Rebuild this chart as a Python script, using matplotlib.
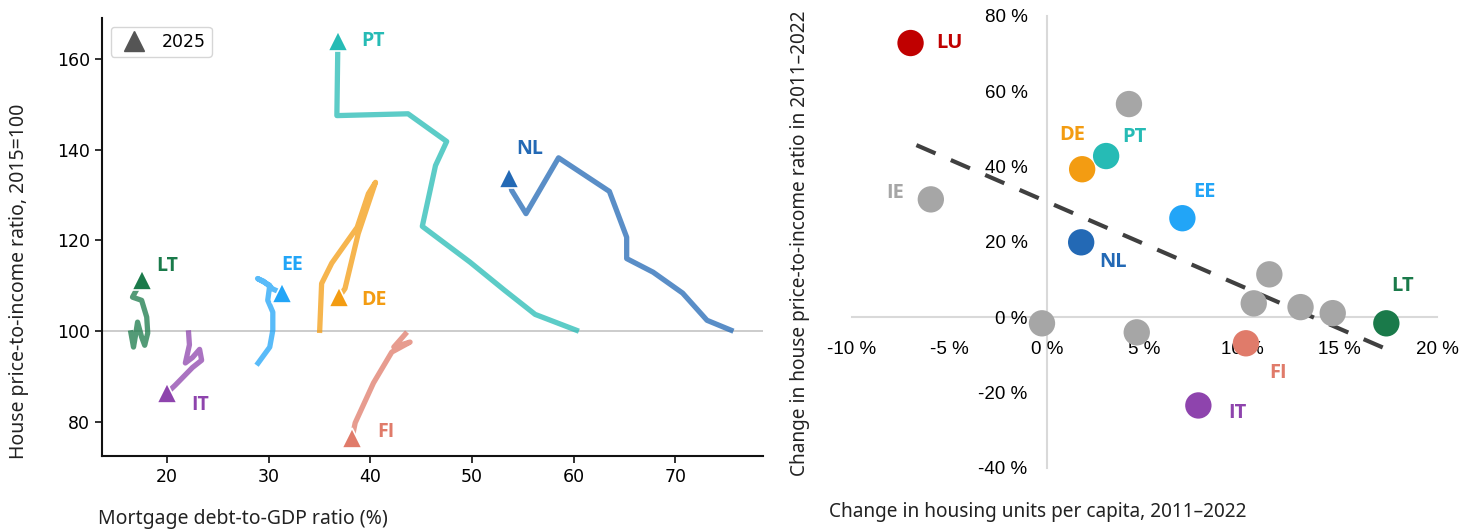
import numpy as np
import matplotlib
matplotlib.use("Agg")
import matplotlib.pyplot as plt
from matplotlib.lines import Line2D

plt.rcParams["font.family"] = ["DejaVu Sans"]

# left panel: paths 2015 -> 2025 (mortgage debt % GDP, price-to-income 2015=100)
countries = ["PT", "NL", "DE", "EE", "LT", "IT", "FI"]
pt_x = [60.5, 56.2, 53.2, 49.8, 45.1, 46.4, 47.5, 43.7, 36.7, 36.8]
pt_y = [100.0, 103.7, 109.0, 115.2, 123.1, 136.5, 141.8, 147.9, 147.5, 164.0]
nl_x = [75.7, 73.1, 70.7, 67.8, 65.2, 65.2, 63.5, 58.5, 55.3, 53.9, 53.6]
nl_y = [100.0, 102.4, 108.4, 113.0, 116.0, 120.7, 130.8, 138.2, 125.9, 131.0, 133.8]
de_x = [35.0, 35.2, 36.2, 38.7, 39.8, 40.5, 38.8, 37.5, 36.9]
de_y = [99.6, 110.5, 115.0, 122.9, 130.3, 132.8, 121.5, 109.4, 107.5]
ee_x = [28.8, 30.1, 30.4, 30.4, 29.9, 30.1, 28.9, 29.5, 30.4, 31.3]
ee_y = [92.5, 96.5, 100.2, 104.2, 106.8, 110.1, 111.6, 111.0, 109.3, 108.4]
lt_x = [16.4, 16.7, 16.9, 17.1, 17.5, 17.8, 18.1, 18.0, 17.5, 16.6, 17.5]
lt_y = [100.2, 96.5, 99.1, 102.0, 98.7, 96.9, 99.6, 103.1, 106.8, 107.5, 111.2]
it_x = [22.1, 22.2, 21.8, 22.5, 23.2, 23.4, 22.5, 20.8, 20.0]
it_y = [100.2, 97.0, 93.0, 94.2, 96.0, 93.6, 92.0, 88.1, 86.4]
fi_x = [43.6, 42.3, 43.9, 42.1, 40.3, 38.5, 38.2]
fi_y = [99.8, 96.5, 97.6, 95.4, 88.6, 79.8, 76.5]
paths = {"PT": (pt_x, pt_y), "NL": (nl_x, nl_y), "DE": (de_x, de_y),
         "EE": (ee_x, ee_y), "LT": (lt_x, lt_y), "IT": (it_x, it_y),
         "FI": (fi_x, fi_y)}

# right panel: change in housing units vs change in price-to-income
sc_names = ["LU", "IE", "DE", "PT", "", "EE", "NL", "", "", "", "", "LT", "", "", "FI", "IT"]
sc_x = [-7.0, -5.96, 1.8, 3.03, 4.2, 6.94, 1.75, 11.4, 10.6, 13.0, 14.65, 17.4, -0.26, 4.6, 10.2, 7.76]
sc_y = [72.8, 31.3, 39.3, 42.8, 56.6, 26.3, 19.9, 11.4, 3.7, 2.7, 1.1, -1.6, -1.6, -4.0, -6.9, -23.4]
trend_x = [-6.7, 17.3]
trend_y = [45.7, -8.2]
xticks_r = [-10, -5, 0, 5, 10, 15, 20]
xtick_labels_r = ["-10 %", "-5 %", "0 %", "5 %", "10 %", "15 %", "20 %"]
yticks_r = [-40, -20, 0, 20, 40, 60, 80]
ytick_labels_r = ["-40 %", "-20 %", "0 %", "20 %", "40 %", "60 %", "80 %"]

colors = {"PT": "#26bbb5", "NL": "#2369b5", "DE": "#f39c12", "EE": "#22a5f7",
          "LT": "#1a7a4a", "IT": "#8e44ad", "FI": "#e07b6a", "LU": "#c00000",
          "IE": "#a6a6a6", "": "#a6a6a6"}

# label offsets in pixels (left: from triangle, right: from circle)
left_off = {"PT": (23, 0, "left"), "NL": (8, 29, "left"), "LT": (15, 14, "left"),
            "EE": (-1, 28, "left"), "DE": (22, -3, "left"), "IT": (24, -12, "left"),
            "FI": (25, 6, "left")}
right_off = {"LU": (26, 0, "left"), "IE": (-27, 6, "right"), "DE": (-10, 34, "center"),
             "PT": (16, 19, "left"), "EE": (11, 26, "left"), "NL": (18, -20, "left"),
             "LT": (5, 37, "left"), "FI": (23, -30, "left"), "IT": (30, -8, "left")}

fig = plt.figure(figsize=(14.61, 5.30), dpi=100)
ax = fig.add_axes([0.0698, 0.1396, 0.4524, 0.8264])
ax2 = fig.add_axes([0.5832, 0.117, 0.4004, 0.853])

# ---- left panel
ax.axhline(100, color="#c8c8c8", lw=1.3, zorder=1)
for c in countries:
    xs, ys = paths[c]
    ax.plot(xs, ys, color=colors[c], alpha=0.75, lw=3.8, solid_capstyle="butt",
            solid_joinstyle="round", zorder=2)
    ax.plot(xs[-1], ys[-1], marker="^", ms=15, color=colors[c], mec="white",
            mew=1.2, zorder=3)
    dx, dy, ha = left_off[c]
    ax.annotate(c, (xs[-1], ys[-1]), xytext=(dx, dy), textcoords="offset pixels",
                ha=ha, va="center", color=colors[c], fontsize=14,
                fontweight="bold", family="Open Sans", zorder=4)

ax.set_xlim(13.6, 78.6)
ax.set_ylim(72.5, 169)
ax.set_xticks([20, 30, 40, 50, 60, 70])
ax.set_yticks([80, 100, 120, 140, 160])
ax.tick_params(labelsize=12.5, length=5, width=1.3, color="#222222")
for s in ["top", "right"]:
    ax.spines[s].set_visible(False)
for s in ["left", "bottom"]:
    ax.spines[s].set_linewidth(1.5)
    ax.spines[s].set_color("#111111")
ax.set_xlabel("Mortgage debt-to-GDP ratio (%)", fontsize=14, family="Noto Sans",
              labelpad=17, x=0.213, color="#222222")
ax.set_ylabel("House price-to-income ratio, 2015=100", fontsize=14,
              family="Noto Sans", labelpad=20, y=0.40, color="#222222")
handle = Line2D([], [], marker="^", ms=14, color="#555555", ls="none")
ax.legend([handle], ["2025"], loc="upper left", fontsize=12.5, frameon=True,
          edgecolor="#cccccc", handletextpad=0.6, borderpad=0.35,
          bbox_to_anchor=(0.0, 1.0))

# ---- right panel
ax2.plot(trend_x, trend_y, color="#404040", lw=3, dashes=(5, 4), zorder=2)
for n, x, y in zip(sc_names, sc_x, sc_y):
    ax2.scatter(x, y, s=360, color=colors[n], edgecolors="none", zorder=3)
    if n:
        dx, dy, ha = right_off[n]
        ax2.annotate(n, (x, y), xytext=(dx, dy), textcoords="offset pixels",
                     ha=ha, va="center", color=colors[n], fontsize=14.5,
                     fontweight="bold", family="Open Sans", zorder=4)

ax2.set_xlim(-10, 20)
ax2.set_ylim(-40, 80)
ax2.spines["left"].set_position(("data", 0))
ax2.spines["bottom"].set_position(("data", 0))
for s in ["top", "right"]:
    ax2.spines[s].set_visible(False)
for s in ["left", "bottom"]:
    ax2.spines[s].set_color("#d9d9d9")
    ax2.spines[s].set_linewidth(1.5)
    ax2.spines[s].set_zorder(1)
ax2.set_xticks(xticks_r)
ax2.set_xticklabels(xtick_labels_r, family="Liberation Sans")
ax2.set_yticks(yticks_r)
ax2.set_yticklabels(ytick_labels_r, family="Liberation Sans")
ax2.tick_params(axis="x", length=0, pad=17, labelsize=13.5)
ax2.tick_params(axis="y", length=0, pad=14, labelsize=13.5)

fig.text(0.5475, 0.541, "Change in house price-to-income ratio in 2011\u20132022",
         rotation=90, ha="center", va="center", fontsize=13.7, family="Noto Sans",
         color="#222222")
fig.text(0.71, 0.034, "Change in housing units per capita, 2011\u20132022",
         ha="center", va="center", fontsize=13.7, family="Noto Sans", color="#222222")

fig.savefig("out.png", dpi=100)
